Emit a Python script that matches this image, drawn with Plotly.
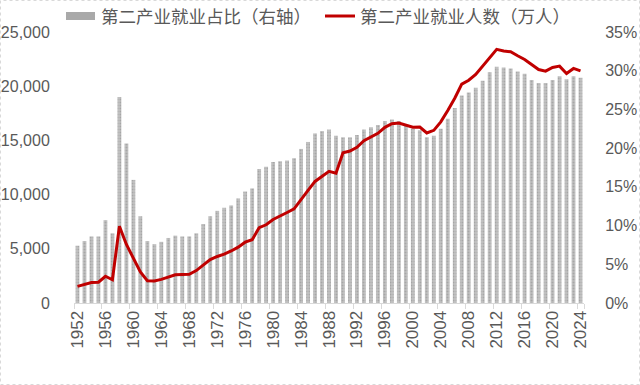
import plotly.graph_objects as go

years = [str(y) for y in range(1952, 2025)]

share_pct = [7.4, 8.0, 8.6, 8.6, 10.7, 9.0, 26.6, 20.6, 15.9, 11.2,
             8.0, 7.6, 7.9, 8.4, 8.7, 8.6, 8.6, 9.0, 10.2, 11.2,
             11.9, 12.3, 12.6, 13.5, 14.4, 14.8, 17.3, 17.6, 18.2, 18.3,
             18.4, 18.7, 19.9, 20.8, 21.9, 22.2, 22.4, 21.6, 21.4, 21.4,
             21.7, 22.4, 22.7, 23.0, 23.5, 23.7, 23.5, 23.0, 22.5, 22.3,
             21.4, 21.6, 22.5, 23.8, 25.2, 26.8, 27.2, 27.8, 28.7, 29.8,
             30.5, 30.4, 30.3, 29.9, 29.6, 28.8, 28.4, 28.4, 28.8, 29.3,
             28.9, 29.3, 29.1]

employed = [1531, 1715, 1882, 1913, 2468, 2142, 7076, 5402, 4112, 2856,
            2059, 2038, 2183, 2408, 2600, 2619, 2650, 2990, 3518, 4000,
            4290, 4500, 4800, 5152, 5611, 5831, 6945, 7214, 7707, 8003,
            8346, 8679, 9590, 10384, 11216, 11726, 12152, 11976, 13856, 14015,
            14355, 14965, 15312, 15655, 16203, 16547, 16600, 16421, 16219, 16234,
            15682, 15927, 16709, 17766, 18894, 20186, 20553, 21080, 21842, 22560,
            23400, 23240, 23180, 22810, 22470, 22000, 21540, 21390, 21730, 21850,
            21170, 21640, 21420]

label_years = [str(y) for y in range(1952, 2025, 4)]
left_ticks = [0, 5000, 10000, 15000, 20000, 25000]
right_ticks = [0, 5, 10, 15, 20, 25, 30, 35]
right_text = [f"{v}%" for v in right_ticks]

name_bar = "第二产业就业占比（右轴）"
name_line = "第二产业就业人数（万人）"

W, H = 640, 385
ML, MR, MT, MB = 74, 56, 32, 82
PW, PH = W - ML - MR, H - MT - MB

def px(x):
    return (x - ML) / PW

def py(y):
    return (H - MB - y) / PH

tick_font = dict(family="Liberation Sans, Arial, sans-serif", size=17, color="#595959")
left_font = dict(family="Liberation Sans, Arial, sans-serif", size=16, color="#595959")
right_font = dict(family="Liberation Sans, Arial, sans-serif", size=16, color="#595959")
cjk = "Noto Sans CJK SC, sans-serif"

fig = go.Figure()
fig.add_trace(go.Bar(
    x=years, y=share_pct, name=name_bar, yaxis="y",
    marker=dict(color="#ababab", line=dict(width=0),
                pattern=dict(shape=".", fgcolor="#8a8a8a", bgcolor="#c2c2c2",
                             size=3, solidity=0.35)),
    width=0.55, showlegend=False,
))
fig.add_trace(go.Scatter(
    x=years, y=employed, name=name_line, mode="lines", yaxis="y2",
    line=dict(color="#c00000", width=3),
    showlegend=False,
))

fig.update_layout(
    width=W, height=H,
    margin=dict(l=ML, r=MR, t=MT, b=MB, pad=0, autoexpand=False),
    paper_bgcolor="white", plot_bgcolor="white",
    xaxis=dict(
        type="category", tickmode="array", tickvals=label_years, ticktext=label_years,
        tickangle=-90, tickfont=tick_font, showline=True, linecolor="#d9d9d9",
        linewidth=1, ticks="outside", ticklen=5, tickcolor="#d9d9d9",
        tickson="boundaries", showgrid=False, zeroline=False, automargin=False,
        range=[-0.5, len(years) - 0.5],
    ),
    yaxis=dict(
        range=[0, 35], tickvals=right_ticks, ticktext=right_text, tickfont=right_font,
        side="right", showgrid=False, zeroline=False, showline=False, automargin=False,
        ticks="outside", ticklen=17, tickcolor="rgba(0,0,0,0)",
    ),
    yaxis2=dict(
        range=[0, 25000], tickvals=left_ticks, tickformat=",", tickfont=left_font,
        overlaying="y", side="left", showgrid=False, zeroline=False, automargin=False,
        showline=False, ticks="outside", ticklen=20, tickcolor="rgba(0,0,0,0)",
    ),
    shapes=[
        dict(type="rect", xref="paper", yref="paper",
             x0=px(0.5), x1=px(W - 0.5), y0=py(H - 0.5), y1=py(0.5),
             line=dict(color="#d9d9d9", width=1, dash="dot"), layer="below"),
        dict(type="rect", xref="paper", yref="paper",
             x0=px(66), x1=px(95), y0=py(20), y1=py(12),
             fillcolor="#a9a9a9", line=dict(width=0)),
        dict(type="line", xref="paper", yref="paper",
             x0=px(325), x1=px(355), y0=py(16), y1=py(16),
             line=dict(color="#c00000", width=3)),
    ],
    annotations=[
        dict(text=name_bar, xref="paper", yref="paper", x=px(99), y=py(16),
             xanchor="left", yanchor="middle", showarrow=False,
             font=dict(family=cjk, size=17.5, color="#595959")),
        dict(text=name_line, xref="paper", yref="paper", x=px(358), y=py(16),
             xanchor="left", yanchor="middle", showarrow=False,
             font=dict(family=cjk, size=17.5, color="#595959")),
    ],
)

fig.write_html(
    "out.html",
    config={"displayModeBar": False, "staticPlot": True},
    post_script="document.body.style.margin='0px';document.body.style.overflow='hidden';",
)
